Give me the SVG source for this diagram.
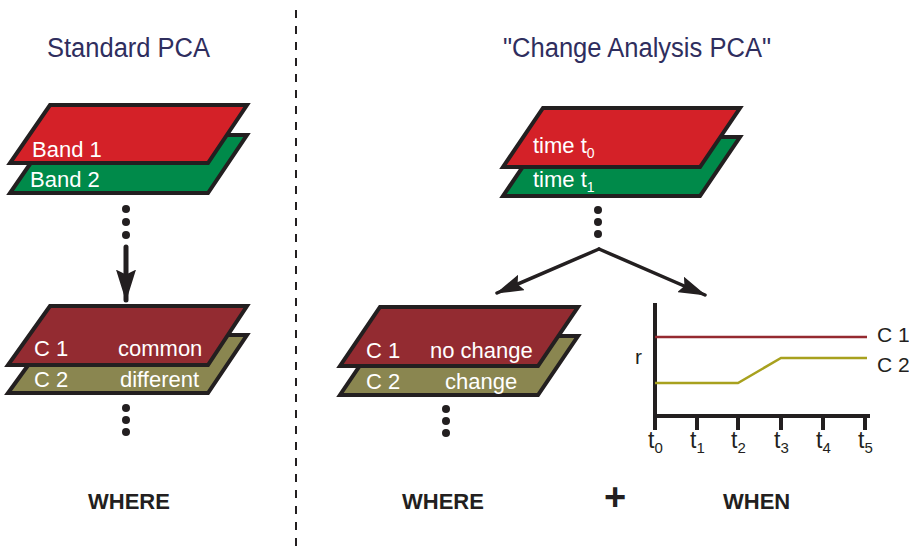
<svg xmlns="http://www.w3.org/2000/svg" width="909" height="546" viewBox="0 0 909 546">
<defs>
<style>
.lay{stroke:#231F20;stroke-width:4;stroke-linejoin:miter}
.red{fill:#D42128}
.grn{fill:#008A4A}
.dred{fill:#932B31}
.olv{fill:#8A8650}
.lbl{font-family:"Liberation Sans",Arial,sans-serif;font-size:22px;fill:#FFFFFF}
.hdr{font-family:"Liberation Sans",Arial,sans-serif;font-size:27px;fill:#2F2E5E}
.bold{font-family:"Liberation Sans",Arial,sans-serif;font-size:22px;font-weight:bold;fill:#231F20}
.blk{font-family:"Liberation Sans",Arial,sans-serif;font-size:21px;fill:#231F20}
.tk{font-family:"Liberation Sans",Arial,sans-serif;font-size:23px;fill:#231F20}
.dot{fill:#231F20}
.conn{stroke:#231F20;fill:none}
</style>
<marker id="ah" viewBox="0 0 10 10" preserveAspectRatio="none" refX="9.5" refY="5" markerWidth="6.4" markerHeight="4" markerUnits="strokeWidth" orient="auto">
<path d="M0,0 L10,5 L0,10 L1.5,5 z" fill="#231F20"/>
</marker>
<marker id="ah2" viewBox="0 0 10 10" preserveAspectRatio="none" refX="9.5" refY="5" markerWidth="8" markerHeight="4.8" markerUnits="strokeWidth" orient="auto">
<path d="M0,0 L10,5 L0,10 L1.5,5 z" fill="#231F20"/>
</marker>
</defs>
<rect width="909" height="546" fill="#FFFFFF"/>

<line x1="296" y1="10" x2="296" y2="546" stroke="#231F20" stroke-width="2" stroke-dasharray="8,8"/>

<text class="hdr" x="47" y="57" textLength="163" lengthAdjust="spacingAndGlyphs">Standard PCA</text>
<text class="hdr" x="503" y="57" textLength="268" lengthAdjust="spacingAndGlyphs">"Change Analysis PCA"</text>

<g id="bands">
<polygon class="lay grn" points="50,135 247,135 208,193 10,193"/>
<text class="lbl" x="30" y="187">Band 2</text>
<polygon class="lay red" points="50,105 247,105 208,163 10,163"/>
<text class="lbl" x="32" y="157">Band 1</text>
</g>

<g id="dots-left-top">
<circle class="dot" cx="126" cy="209" r="4"/>
<circle class="dot" cx="126" cy="222" r="4"/>
<circle class="dot" cx="126" cy="235" r="4"/>
</g>

<g id="components-left">
<polygon class="lay olv" points="50,335 247,335 208,393 8,393"/>
<text class="lbl" x="34" y="387">C 2</text>
<text class="lbl" x="120" y="387">different</text>
<polygon class="lay dred" points="50,306 247,306 208,365 8,365"/>
<text class="lbl" x="34" y="356">C 1</text>
<text class="lbl" x="118" y="356">common</text>
</g>

<g id="dots-left-bottom">
<circle class="dot" cx="126" cy="408" r="4"/>
<circle class="dot" cx="126" cy="420" r="4"/>
<circle class="dot" cx="126" cy="432" r="4"/>
</g>

<g id="times">
<polygon class="lay grn" points="543,137 740,137 700,196 503,196"/>
<text class="lbl" x="533" y="187">time t<tspan font-size="14" dy="5">1</tspan></text>
<polygon class="lay red" points="543,108 740,108 700,167 503,167"/>
<text class="lbl" x="533" y="153">time t<tspan font-size="14" dy="5">0</tspan></text>
</g>

<g id="dots-right-top">
<circle class="dot" cx="598" cy="210" r="4"/>
<circle class="dot" cx="598" cy="222" r="4"/>
<circle class="dot" cx="598" cy="234" r="4"/>
</g>

<g id="components-right">
<polygon class="lay olv" points="380,336 578,336 538,395 340,395"/>
<text class="lbl" x="366" y="389">C 2</text>
<text class="lbl" x="445" y="389">change</text>
<polygon class="lay dred" points="380,307 578,307 538,366 340,366"/>
<text class="lbl" x="366" y="358">C 1</text>
<text class="lbl" x="430" y="358">no change</text>
</g>

<g id="dots-right-bottom">
<circle class="dot" cx="446" cy="409" r="4"/>
<circle class="dot" cx="446" cy="421" r="4"/>
<circle class="dot" cx="446" cy="433" r="4"/>
</g>

<g id="connectors">
<line class="conn" x1="126" y1="247" x2="126" y2="300" stroke-width="5" stroke-linecap="round" marker-end="url(#ah)"/>
<line class="conn" x1="599" y1="249" x2="497" y2="293" stroke-width="3.5" stroke-linecap="round" marker-end="url(#ah2)"/>
<line class="conn" x1="599" y1="249" x2="705" y2="295" stroke-width="3.5" stroke-linecap="round" marker-end="url(#ah2)"/>
</g>

<g id="chart">
<line x1="655" y1="303" x2="655" y2="430" stroke="#231F20" stroke-width="4"/>
<line x1="653" y1="416" x2="870" y2="416" stroke="#231F20" stroke-width="4"/>
<g stroke="#231F20" stroke-width="4">
<line x1="697" y1="416" x2="697" y2="430"/>
<line x1="738" y1="416" x2="738" y2="430"/>
<line x1="781" y1="416" x2="781" y2="430"/>
<line x1="823" y1="416" x2="823" y2="430"/>
<line x1="865" y1="416" x2="865" y2="430"/>
</g>
<line x1="655" y1="337" x2="867" y2="337" stroke="#952A30" stroke-width="2.5"/>
<polyline points="655,383 738,383 781,358 867,358" fill="none" stroke="#A8A11E" stroke-width="2.5"/>
<text class="blk" x="877" y="342">C 1</text>
<text class="blk" x="877" y="372">C 2</text>
<text class="blk" x="635" y="364">r</text>
<g class="tk">
<text x="648" y="448">t<tspan font-size="15" dy="5">0</tspan></text>
<text x="690" y="448">t<tspan font-size="15" dy="5">1</tspan></text>
<text x="731" y="448">t<tspan font-size="15" dy="5">2</tspan></text>
<text x="774" y="448">t<tspan font-size="15" dy="5">3</tspan></text>
<text x="816" y="448">t<tspan font-size="15" dy="5">4</tspan></text>
<text x="858" y="448">t<tspan font-size="15" dy="5">5</tspan></text>
</g>
</g>

<text class="bold" x="88" y="509">WHERE</text>
<text class="bold" x="402" y="509">WHERE</text>
<text class="bold" x="615" y="510" text-anchor="middle" style="font-size:38px">+</text>
<text class="bold" x="723" y="509">WHEN</text>
</svg>
